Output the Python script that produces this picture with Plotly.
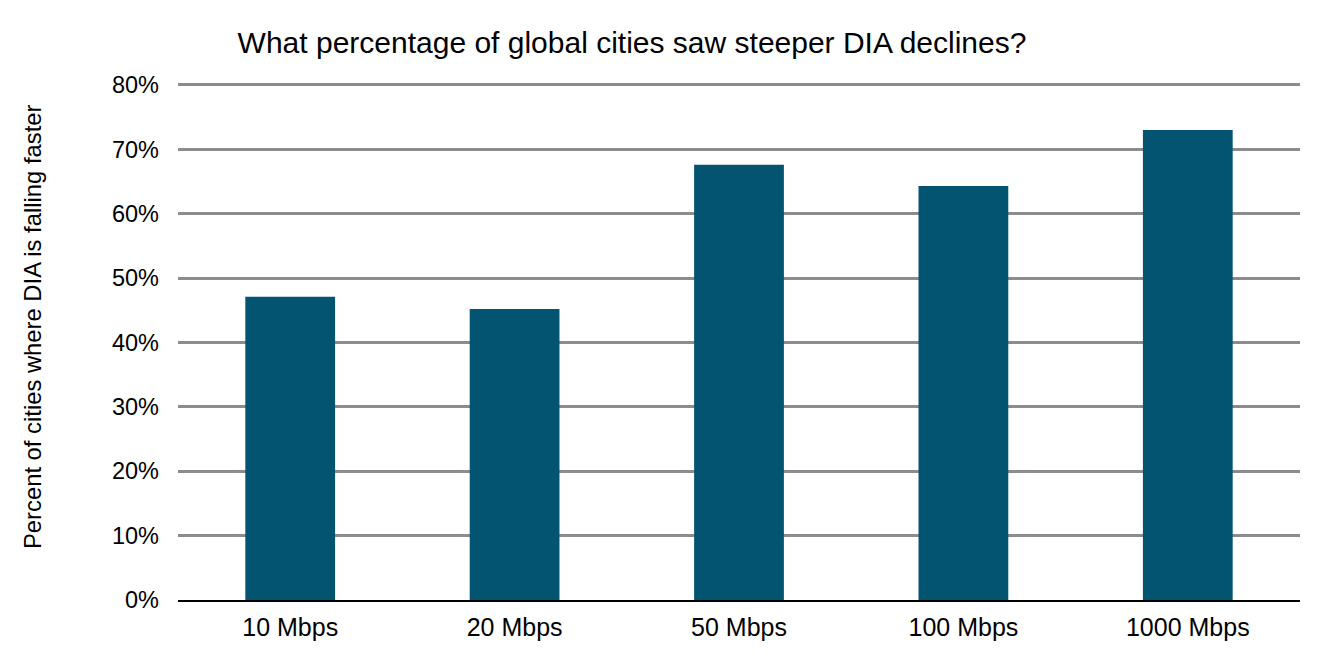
import plotly.graph_objects as go

categories = ["10 Mbps", "20 Mbps", "50 Mbps", "100 Mbps", "1000 Mbps"]
values = [47.1, 45.2, 67.6, 64.3, 73.0]
y_ticks = [0, 10, 20, 30, 40, 50, 60, 70, 80]
y_tick_labels = [f"{v}%" for v in y_ticks]

# page body has an 8px margin, so the figure is offset by (8, 8)
W, H = 1335, 662

fig = go.Figure(go.Bar(x=categories, y=values, marker=dict(color="#025470", line=dict(width=0))))

fig.update_layout(
    width=W, height=H,
    margin=dict(l=170, r=43, t=75, b=70, pad=0),
    plot_bgcolor="white", paper_bgcolor="white",
    bargap=0.6,
    showlegend=False,
    font=dict(family="Liberation Sans, Arial, sans-serif", color="#000000", size=23),
    title=dict(text="What percentage of global cities saw steeper DIA declines?",
               x=(632 - 8) / W, xanchor="center", y=1 - (42 - 8) / H, yanchor="middle",
               font=dict(size=30, color="#000000")),
)
fig.update_yaxes(range=[0, 80.3], tickvals=y_ticks, ticktext=y_tick_labels,
                 showgrid=True, gridcolor="#8c8c8c", gridwidth=2.5,
                 zeroline=False, showline=False, ticks="", ticklabelstandoff=18,
                 tickfont=dict(size=23.5))
fig.update_xaxes(showgrid=False, showline=True, linecolor="#000000", linewidth=1.5,
                 ticks="", tickfont=dict(size=25), ticklabelstandoff=4)
fig.add_annotation(text="Percent of cities where DIA is falling faster",
                   xref="paper", yref="paper", x=(32 - 178) / 1122, y=(600 - 327) / 517,
                   xanchor="center", yanchor="middle", textangle=-90,
                   showarrow=False, font=dict(size=23.8, color="#000000"))

fig.write_html("out.html")
